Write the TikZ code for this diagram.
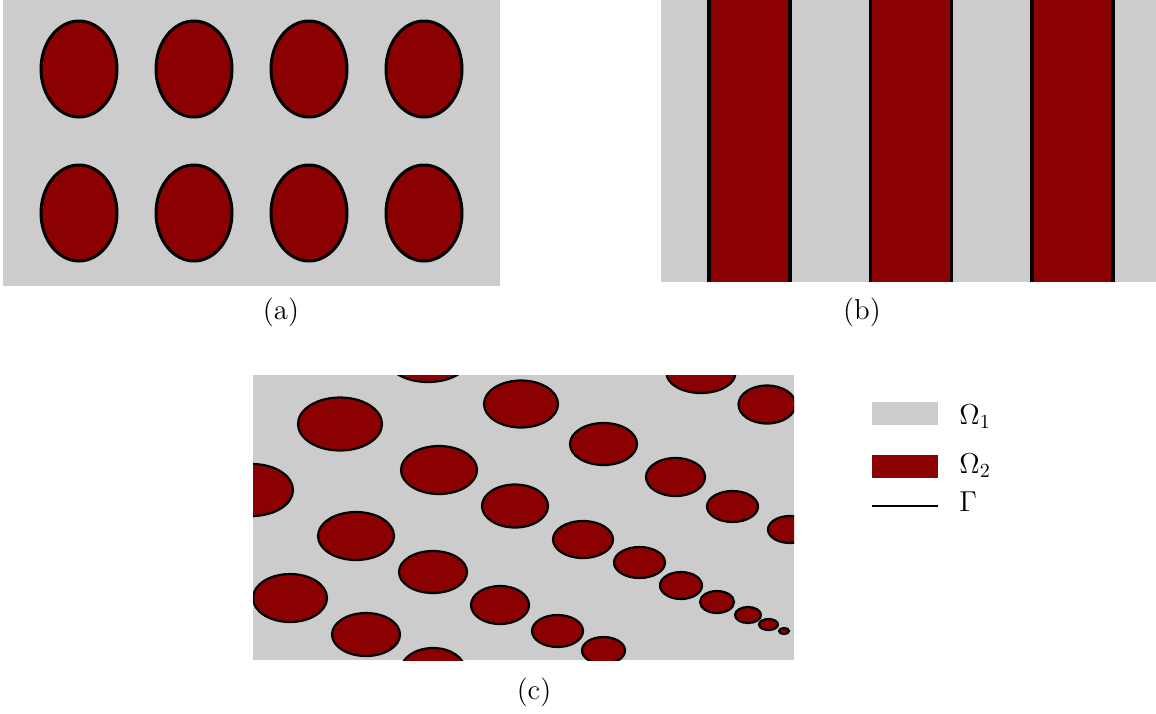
\documentclass[tikz,border=0pt]{standalone}
\usepackage{amsmath}
\usepackage{tikz}
\usetikzlibrary{positioning}

\definecolor{omegaone}{RGB}{204,204,204}
\definecolor{omegatwo}{RGB}{139,0,0}

\begin{document}
\begin{tikzpicture}[
      x=0.5pt, y=-0.5pt,
      font=\Large,
      matrixbg/.style={fill=omegaone},
      incl/.style={fill=omegatwo, draw=black, line width=1.5pt},
      smallincl/.style={fill=omegatwo, draw=black, line width=1.1pt},
      iface/.style={draw=black, line width=1.8pt},
      subcap/.style={inner sep=0pt},
      swatch/.style={inner sep=0pt, minimum width=33pt, minimum height=11.5pt},
      legtxt/.style={anchor=base west, inner sep=0pt},
    ]
    \useasboundingbox (0,0) rectangle (1156,713);
    % (a) periodic array of elliptic inclusions
    \fill[matrixbg] (3,0) rectangle (500,286);
    \foreach \cx in {79,194,309,424}
      \foreach \cy in {69,213}
        \draw[incl] (\cx,\cy) ellipse [x radius=38, y radius=48];
    \node[subcap] (capa) at (281,312) {(a)};
    % (b) laminate, interfaces drawn on top
    \fill[matrixbg] (661,0) rectangle (1156,282);
    \foreach \xl in {709,870.5,1032} {
      \fill[omegatwo] (\xl,0) rectangle ++(81,282);
      \draw[iface] (\xl,0) -- ++(0,282);
      \draw[iface] (\xl+81,0) -- ++(0,282);
    }
    \node[subcap] (capb) at (862,312) {(b)};
    % (c) graded inclusions, clipped to the cell
    \begin{scope}
      \clip (253,375) rectangle (794,660);
      \fill[matrixbg] (253,375) rectangle (794,660);
      \foreach \cx/\cy/\rx/\ry in {428/357/42/25, 340/424/42/26.5, 521/404/37/23.5,
          252/490/41/26, 439/470/38/24, 515/506/33/21.5, 356/536/38/24,
          433/572/34/21, 290/598/37/24, 500/605/29/19, 366/634.5/34/21.5,
          433/670/32/22, 701/373/34.5/20, 767/404.5/28.5/19, 603.5/444/33.5/21,
          675.5/477/29.5/19, 732.5/506.5/25.5/15.5, 790/529.5/22/13.5,
          583/539.5/30/18.5, 639.5/562.5/25.5/15.5, 681/585.5/21/13.5,
          717/602/17/11, 748/615/13/8, 768.5/624.5/9.5/5.5, 784/631/5/3,
          557.5/631/25.5/16, 603.5/650.5/21.5/13.5}
        \draw[smallincl] (\cx,\cy) ellipse [x radius=\rx, y radius=\ry];
    \end{scope}
    \node[subcap] (capc) at (534,692) {(c)};
    % legend
    \node[swatch, fill=omegaone] (sw1) at (905,413.5) {};
    \node[legtxt] (lone) at (959,424) {$\Omega_1$};
    \node[swatch, fill=omegatwo] (sw2) at (905,466.5) {};
    \node[legtxt] (ltwo) at (959,473) {$\Omega_2$};
    \coordinate (gl) at (872,506);
    \coordinate (gr) at (938,506);
    \draw[black, line width=1pt] (gl) -- (gr);
    \node[legtxt] (lgam) at (959,511) {$\Gamma$};
  \end{tikzpicture}
\end{document}
